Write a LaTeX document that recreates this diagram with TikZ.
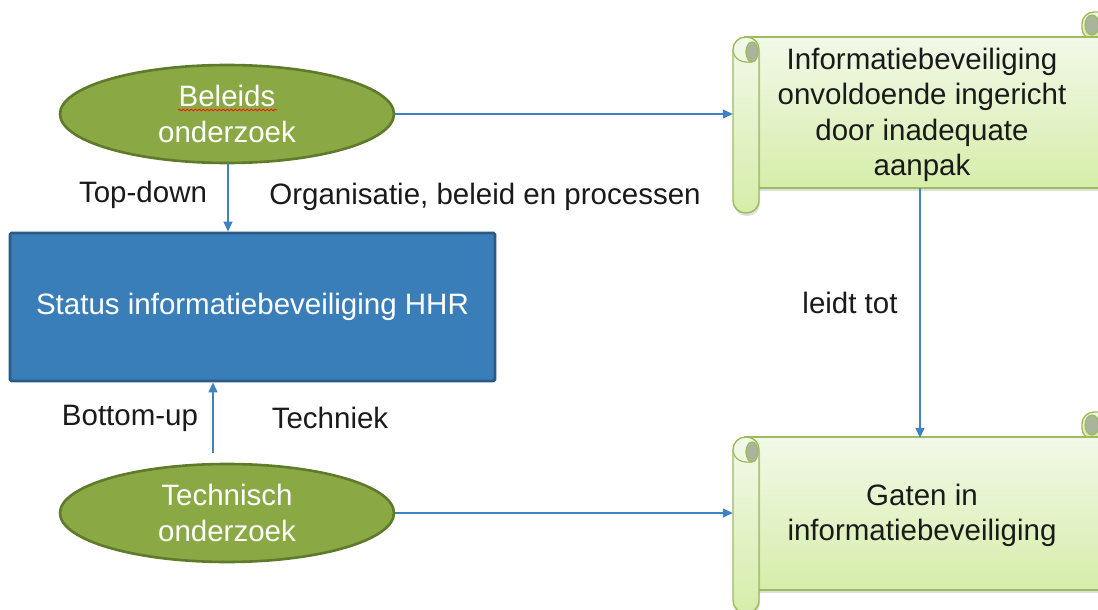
\documentclass[tikz,border=0pt]{standalone}
\usepackage{fontspec}
\setmainfont{Liberation Sans}
\usetikzlibrary{arrows.meta,shapes.geometric,decorations.pathmorphing,shadows}
\definecolor{ellfill}{HTML}{8AA843}
\definecolor{elldraw}{HTML}{5E7A2A}
\definecolor{boxfill}{HTML}{3A7EB9}
\definecolor{boxdraw}{HTML}{2A5A85}
\definecolor{arrcol}{HTML}{3F82C4}
\definecolor{scrtop}{HTML}{F2F9E8}
\definecolor{scrbot}{HTML}{D6EDAA}
\definecolor{scrdraw}{HTML}{9CBB5A}
\definecolor{curlfill}{HTML}{A9B49B}
\definecolor{txt}{HTML}{1A1A1A}
\tikzset{
  bigfont/.style={font=\fontsize{29.5}{35.5}\selectfont},
  ell/.style={ellipse, draw=elldraw, fill=ellfill, line width=2.6pt, minimum width=334pt, minimum height=98pt, inner sep=0pt},
  wtext/.style={bigfont, text=white, align=center, inner sep=0pt},
  box/.style={rectangle, draw=boxdraw, fill=boxfill, line width=2.8pt, minimum width=485pt, minimum height=148pt, rounded corners=1.5pt, bigfont, text=white, align=center},
  sheet/.style={rectangle, minimum width=374pt, minimum height=151pt, inner sep=0pt},
  stext/.style={bigfont, text=txt, align=center, inner sep=0pt},
  lbl/.style={bigfont, text=txt, inner sep=0pt},
  arr/.style={draw=arrcol, line width=1.3pt, -{Triangle[length=10pt,width=9pt]}},
  scr/.style={draw=scrdraw, line width=1.4pt, top color=scrtop, bottom color=scrbot},
  curl/.style={draw=scrdraw, line width=1.2pt, fill=curlfill},
}
\newcommand{\myscroll}[2]{%
  \begin{scope}[yshift=#1]
    % right top roll
    \path[scr, rounded corners=12pt] (1082,40) -- (1082,12) -- (1120,12) -- (1120,40) -- cycle;
    \path[curl] (1092,25) ellipse [x radius=7pt, y radius=10pt];
    % main sheet
    \path[scr, drop shadow={opacity=0.25, shadow xshift=1pt, shadow yshift=-3pt}] (745,37) rectangle (1120,#2);
    % left roll
    \path[scr, rounded corners=12.5pt, drop shadow={opacity=0.25, shadow xshift=1pt, shadow yshift=-3pt}] (733,37) rectangle (759,213);
    \path[curl] (752,52) ellipse [x radius=6pt, y radius=10pt];
    \draw[draw=scrdraw, line width=1.2pt] (733,50) .. controls (734,60) and (742,63) .. (752,62);
  \end{scope}
}
\begin{document}
\begin{tikzpicture}[x=1pt, y=-1pt]
  \path[use as bounding box] (0,0) rectangle (1098,610);
  \clip (0,0) rectangle (1098,610);
  \fill[white] (0,0) rectangle (1098,610);

  % scrolls
  \myscroll{0pt}{188}
  \myscroll{-400pt}{190}

  \node[sheet] (s1) at (920,112.5) {};
  \node[stext] (t3) at (922,115) {Informatiebeveiliging\\onvoldoende ingericht\\door inadequate\\aanpak};
  \node[sheet] (s2) at (920,513.5) {};
  \node[stext] (t4) at (922,515.5) {Gaten in\\informatiebeveiliging};

  % ellipses
  \node[ell] (e1) at (227,114) {};
  \node[wtext] (t1) at (e1.center) {Beleids\\onderzoek};
  \draw[red!85!orange, line width=0.8pt, decorate, decoration={snake, segment length=4pt, amplitude=0.8pt}] (178,110) -- (277,110);
  \node[ell] (e2) at (227,513) {};
  \node[wtext] (t2) at (e2.center) {Technisch\\onderzoek};

  % central box
  \node[box] (r) at (252.5,307) {Status informatiebeveiliging HHR};

  % labels
  \node[lbl] (l1) at (143,195) {Top-down};
  \node[lbl] (l2) at (485,197) {Organisatie, beleid en processen};
  \node[lbl] (l3) at (850,303) {leidt tot};
  \node[lbl] (l4) at (130,418) {Bottom-up};
  \node[lbl] (l5) at (330,418) {Techniek};

  % connectors
  \coordinate (c1) at (228,163);
  \draw[arr] (c1) -- (c1 |- r.north);
  \coordinate (c2) at (213,453);
  \draw[arr] (c2) -- (c2 |- r.south);
  \draw[arr] (e1.east) -- (e1.east -| s1.west);
  \draw[arr] (e2.east) -- (e2.east -| s2.west);
  \draw[arr] (s1.south) -- (s2.north);
\end{tikzpicture}
\end{document}
